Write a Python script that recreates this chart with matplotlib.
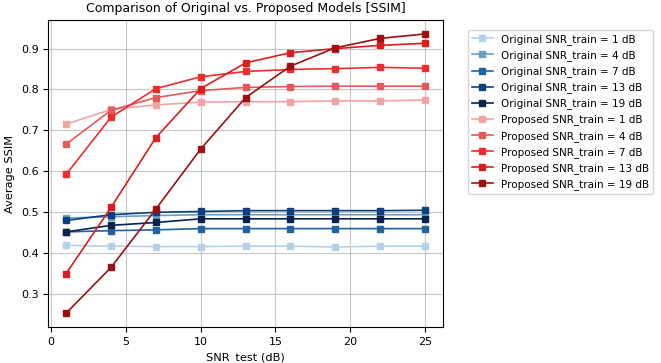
import numpy as np
import matplotlib
matplotlib.use('Agg')
import matplotlib.pyplot as plt

snr_test = [1, 4, 7, 10, 13, 16, 19, 22, 25]
snr_train = [1, 4, 7, 13, 19]

# Original models (SSIM)
orig_1 = [0.418, 0.416, 0.415, 0.415, 0.416, 0.416, 0.414, 0.416, 0.416]
orig_4 = [0.485, 0.488, 0.491, 0.493, 0.493, 0.493, 0.493, 0.493, 0.493]
orig_7 = [0.451, 0.454, 0.456, 0.459, 0.459, 0.459, 0.459, 0.459, 0.459]
orig_13 = [0.479, 0.493, 0.499, 0.501, 0.503, 0.503, 0.503, 0.503, 0.504]
orig_19 = [0.451, 0.467, 0.474, 0.483, 0.483, 0.483, 0.483, 0.483, 0.483]

# Proposed models (SSIM)
prop_1 = [0.715, 0.751, 0.762, 0.769, 0.770, 0.770, 0.772, 0.772, 0.774]
prop_4 = [0.666, 0.749, 0.780, 0.797, 0.805, 0.807, 0.808, 0.808, 0.808]
prop_7 = [0.592, 0.732, 0.802, 0.831, 0.844, 0.849, 0.851, 0.854, 0.852]
prop_13 = [0.349, 0.511, 0.682, 0.802, 0.865, 0.890, 0.900, 0.908, 0.913]
prop_19 = [0.252, 0.364, 0.507, 0.654, 0.780, 0.857, 0.902, 0.925, 0.936]

orig = [orig_1, orig_4, orig_7, orig_13, orig_19]
prop = [prop_1, prop_4, prop_7, prop_13, prop_19]

blues = ['#b3d1e8', '#6a9fc9', '#1f63a3', '#0b3f7d', '#08234d']
reds = ['#f4a3a3', '#e45a5a', '#ee2e2e', '#d81e1e', '#9e0f12']

fig = plt.figure(figsize=(6.61, 3.63), dpi=100)
ax = fig.add_axes([0.073, 0.099, 0.597, 0.846])

for s, vals, c in zip(snr_train, orig, blues):
    ax.plot(snr_test, vals, '-s', color=c, markersize=5, linewidth=1.2,
            label='Original SNR_train = %d dB' % s)
for s, vals, c in zip(snr_train, prop, reds):
    ax.plot(snr_test, vals, '-s', color=c, markersize=5, linewidth=1.2,
            label='Proposed SNR_train = %d dB' % s)

ax.set_title('Comparison of Original vs. Proposed Models [SSIM]', fontsize=9)
ax.set_xlabel('SNR_test (dB)', fontsize=8.2)
ax.set_ylabel('Average SSIM', fontsize=8.2)
ax.tick_params(labelsize=8)
ax.set_xticks([0, 5, 10, 15, 20, 25])
ax.grid(True, alpha=0.7)
ax.legend(loc='upper left', bbox_to_anchor=(1.05, 0.985), fontsize=7.5)

plt.savefig('out.png', dpi=100)
plt.close()
